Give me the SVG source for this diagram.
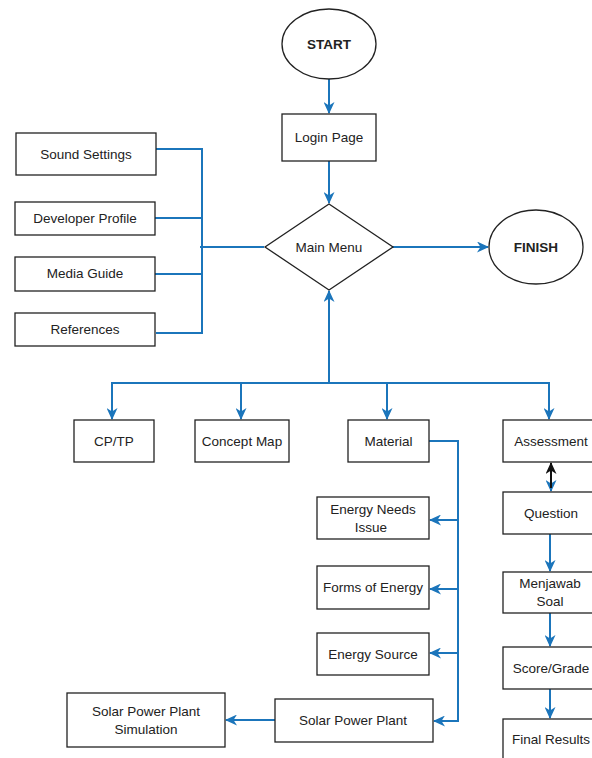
<svg xmlns="http://www.w3.org/2000/svg" width="592" height="758" viewBox="0 0 592 758">
<style>
.n{fill:#fff;stroke:#222;stroke-width:1.3}
.t{font-family:"Liberation Sans",Arial,sans-serif;font-size:13.5px;fill:#222;text-anchor:middle;dominant-baseline:central}
.b{font-weight:bold}
.c{fill:none;stroke:#1B75BB;stroke-width:2}
.k{fill:none;stroke:#111;stroke-width:2}
</style>
<defs>
<marker id="a" markerUnits="userSpaceOnUse" markerWidth="12" markerHeight="11" refX="11" refY="5.5" orient="auto" viewBox="0 0 12 11">
<path d="M0,0 L12,5.5 L0,11 L3.5,5.5 z" fill="#1B75BB"/>
</marker>
<marker id="ak" markerUnits="userSpaceOnUse" markerWidth="12" markerHeight="11" refX="11" refY="5.5" orient="auto-start-reverse" viewBox="0 0 12 11">
<path d="M0,0 L12,5.5 L0,11 L3.5,5.5 z" fill="#111"/>
</marker>
</defs>
<rect width="592" height="758" fill="#fff"/>
<g id="connectors">
<path class="c" d="M329,79 V113" marker-end="url(#a)"/>
<path class="c" d="M329,161 V203" marker-end="url(#a)"/>
<path class="c" d="M393,247 H488" marker-end="url(#a)"/>
<path class="c" d="M156,149 H202 V333 H156"/>
<path class="c" d="M155,218 H202"/>
<path class="c" d="M155,274 H202"/>
<path class="c" d="M200,247 H264"/>
<path class="c" d="M329,383 V291" marker-end="url(#a)"/>
<path class="c" d="M329,383 H112 V419" marker-end="url(#a)"/>
<path class="c" d="M329,383 H549 V419" marker-end="url(#a)"/>
<path class="c" d="M241,383 V419" marker-end="url(#a)"/>
<path class="c" d="M387,383 V419" marker-end="url(#a)"/>
<path class="c" d="M429,441 H458 V721 H434" marker-end="url(#a)"/>
<path class="c" d="M458,520 H430" marker-end="url(#a)"/>
<path class="c" d="M458,589 H430" marker-end="url(#a)"/>
<path class="c" d="M458,653 H430" marker-end="url(#a)"/>
<path class="c" d="M275,720 H226" marker-end="url(#a)"/>
<path class="c" d="M551,475 V491" marker-end="url(#a)"/>
<path class="k" d="M551,463 V488" marker-start="url(#ak)"/>
<path class="c" d="M550,534 V571" marker-end="url(#a)"/>
<path class="c" d="M550,613 V646" marker-end="url(#a)"/>
<path class="c" d="M550,689 V718" marker-end="url(#a)"/>
</g>
<g id="start"><ellipse class="n" cx="329" cy="44" rx="47" ry="35"/><text class="t b" x="329" y="44">START</text></g>
<g id="login"><rect class="n" x="282" y="114" width="94" height="47"/><text class="t" x="329" y="137.5">Login Page</text></g>
<g id="mainmenu"><polygon class="n" points="329,204 393,247 329,290 265,247"/><text class="t" x="329" y="247">Main Menu</text></g>
<g id="finish"><ellipse class="n" cx="536" cy="247" rx="47" ry="37"/><text class="t b" x="536" y="247">FINISH</text></g>
<g id="sound"><rect class="n" x="16" y="133" width="140" height="42"/><text class="t" x="86" y="154">Sound Settings</text></g>
<g id="developer"><rect class="n" x="15" y="202" width="140" height="33"/><text class="t" x="85" y="218.5">Developer Profile</text></g>
<g id="media"><rect class="n" x="15" y="257" width="140" height="34"/><text class="t" x="85" y="273">Media Guide</text></g>
<g id="references"><rect class="n" x="15" y="313" width="140" height="33"/><text class="t" x="85" y="329">References</text></g>
<g id="cptp"><rect class="n" x="74" y="420" width="80" height="42"/><text class="t" x="114" y="441">CP/TP</text></g>
<g id="conceptmap"><rect class="n" x="195" y="420" width="94" height="42"/><text class="t" x="242" y="441">Concept Map</text></g>
<g id="material"><rect class="n" x="348" y="420" width="81" height="42"/><text class="t" x="388.5" y="441">Material</text></g>
<g id="assessment"><rect class="n" x="503" y="420" width="95" height="42"/><text class="t" x="551" y="441">Assessment</text></g>
<g id="energyneeds"><rect class="n" x="317" y="497" width="112" height="42"/><text class="t" x="373" y="509">Energy Needs</text><text class="t" x="371" y="527">Issue</text></g>
<g id="forms"><rect class="n" x="317" y="566" width="112" height="43"/><text class="t" x="373" y="587.5">Forms of Energy</text></g>
<g id="source"><rect class="n" x="317" y="633" width="112" height="42"/><text class="t" x="373" y="654">Energy Source</text></g>
<g id="solar"><rect class="n" x="275" y="699" width="158" height="43"/><text class="t" x="353" y="720">Solar Power Plant</text></g>
<g id="simulation"><rect class="n" x="67" y="693" width="158" height="54"/><text class="t" x="146" y="711">Solar Power Plant</text><text class="t" x="146" y="729">Simulation</text></g>
<g id="question"><rect class="n" x="503" y="492" width="95" height="42"/><text class="t" x="551" y="513">Question</text></g>
<g id="menjawab"><rect class="n" x="503" y="572" width="95" height="41"/><text class="t" x="550" y="583.5">Menjawab</text><text class="t" x="550" y="601">Soal</text></g>
<g id="score"><rect class="n" x="503" y="647" width="95" height="42"/><text class="t" x="551" y="668">Score/Grade</text></g>
<g id="final"><rect class="n" x="503" y="719" width="95" height="60"/><text class="t" x="551" y="739">Final Results</text></g>
</svg>
